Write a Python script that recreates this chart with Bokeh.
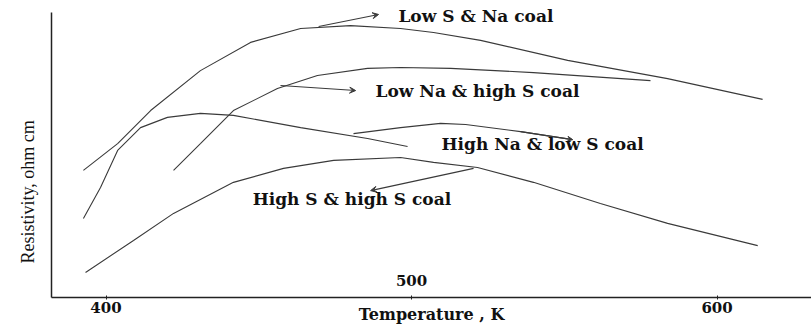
from bokeh.plotting import figure
from bokeh.models import Label, Arrow, VeeHead, FixedTicker, Range1d, Title
from bokeh.embed import file_html
from bokeh.resources import INLINE

# ---- data (temperature in K, resistivity in relative units) ----
t_low_s_na = [392.6, 403.8, 414.6, 430.9, 447.3, 463.7, 480.0, 496.4, 507.2, 522.6, 551.1, 583.8, 614.9]
r_low_s_na = [4.46, 5.40, 6.56, 7.96, 8.95, 9.44, 9.54, 9.44, 9.30, 9.02, 8.32, 7.68, 6.95]

t_low_na_high_s = [422.1, 430.9, 441.7, 456.1, 469.2, 485.6, 496.4, 512.8, 539.9, 578.2]
r_low_na_high_s = [4.46, 5.40, 6.56, 7.33, 7.79, 8.04, 8.07, 8.04, 7.89, 7.61]

t_high_na_low_s = [392.6, 398.2, 403.8, 411.3, 420.1, 430.9, 441.7, 463.7, 485.6, 498.7]
r_high_na_low_s = [2.77, 3.86, 5.16, 5.96, 6.32, 6.46, 6.39, 5.96, 5.58, 5.30]

t_high_s = [393.3, 409.0, 422.1, 441.7, 458.1, 474.5, 496.4, 507.2, 521.6, 539.9, 561.8, 583.8, 613.3]
r_high_s = [0.88, 2.00, 2.95, 4.04, 4.53, 4.81, 4.91, 4.74, 4.56, 4.04, 3.30, 2.60, 1.82]

# pointer line for the "High Na & low S coal" label
t_pointer = [481.0, 496.4, 509.5, 517.7, 535.7, 552.7]
r_pointer = [5.75, 5.96, 6.11, 6.07, 5.82, 5.54]

# label texts and their anchor positions (temperature, resistivity)
label_texts = ["Low S & Na coal", "Low Na & high S  coal", "High Na & low S coal", "High S & high S coal"]
label_t = [495.7, 488.2, 509.8, 448.0]
label_r = [9.89, 7.26, 5.40, 3.47]

# arrows: (t_start, r_start, t_end, r_end)
arrow_t0 = [469.6, 457.1, 520.3]
arrow_r0 = [9.51, 7.44, 4.53]
arrow_t1 = [489.2, 481.7, 486.6]
arrow_r1 = [9.93, 7.26, 3.75]

x_ticks = [400, 500, 600]
x_tick_labels = {400: "400", 500: "", 600: "600"}

p = figure(width=811, height=327, output_backend="svg", toolbar_location=None,
           x_range=Range1d(382.16, 630.9), y_range=Range1d(0, 10.42),
           min_border_left=51, min_border_right=0, min_border_top=0, min_border_bottom=30)
p.outline_line_color = None
p.grid.visible = False
p.background_fill_color = "white"
p.border_fill_color = "white"

line_color = "#3a3a3a"
for xs, ys in [(t_low_s_na, r_low_s_na), (t_low_na_high_s, r_low_na_high_s),
               (t_high_na_low_s, r_high_na_low_s), (t_high_s, r_high_s)]:
    p.line(xs, ys, line_color=line_color, line_width=1.1)

p.line(t_pointer, r_pointer, line_color=line_color, line_width=1.1)
p.add_layout(Arrow(end=VeeHead(size=5, line_color=line_color, line_width=1, fill_color=line_color),
                   x_start=t_pointer[-2], y_start=r_pointer[-2], x_end=t_pointer[-1], y_end=r_pointer[-1],
                   line_color=line_color, line_width=1.1))

for a, b, c, d in zip(arrow_t0, arrow_r0, arrow_t1, arrow_r1):
    p.add_layout(Arrow(end=VeeHead(size=6, line_color=line_color, line_width=1, fill_color=line_color),
                       x_start=a, y_start=b, x_end=c, y_end=d,
                       line_color=line_color, line_width=1.1))

for txt, tx, ty in zip(label_texts, label_t, label_r):
    p.add_layout(Label(x=tx, y=ty, text=txt, text_align="left", text_baseline="middle",
                       text_font="DejaVu Serif", text_font_style="bold", text_font_size="17px",
                       text_color="#111111"))

# x axis
xa = p.xaxis[0]
xa.ticker = FixedTicker(ticks=x_ticks)
xa.major_label_overrides = x_tick_labels
xa.major_label_text_font = "DejaVu Serif"
xa.major_label_text_font_style = "bold"
xa.major_label_text_font_size = "15px"
xa.major_label_text_color = "#111111"
xa.major_label_standoff = 2
xa.major_tick_in = 2
xa.major_tick_out = 2
xa.minor_tick_line_color = None
xa.axis_line_width = 1.5
xa.axis_line_color = "#222222"
xa.major_tick_line_color = "#222222"
xa.axis_label = "Temperature , K"
xa.axis_label_text_font = "DejaVu Serif"
xa.axis_label_text_font_style = "bold"
xa.axis_label_text_font_size = "16px"
xa.axis_label_text_color = "#111111"
xa.axis_label_standoff = -11

# the "500" label sits above the axis in the original
p.add_layout(Label(x=500, y=0.6, text="500", text_align="center", text_baseline="middle",
                   text_font="DejaVu Serif", text_font_style="bold", text_font_size="15px",
                   text_color="#111111"))

# y axis (no ticks); its title is placed as a left-side Title so it can be shifted
ya = p.yaxis[0]
ya.ticker = FixedTicker(ticks=[])
ya.bounds = (0, 10)
ya.major_tick_out = 0
ya.major_tick_in = 0
ya.minor_tick_line_color = None
ya.major_label_standoff = 0
ya.axis_line_width = 1.5
ya.axis_line_color = "#222222"

ytitle = Title(text="Resistivity, ohm cm", align="left", offset=34, standoff=28,
               text_font="Liberation Serif", text_font_style="normal", text_font_size="18px",
               text_color="#111111")
p.add_layout(ytitle, "left")

open("out.html", "w").write(file_html(p, INLINE))
